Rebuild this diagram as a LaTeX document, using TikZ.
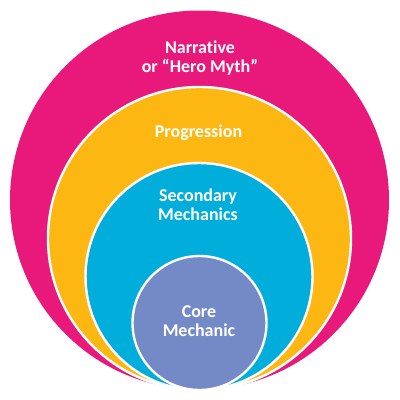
\documentclass[tikz,border=0pt]{standalone}
\usepackage{fontspec}
\setmainfont[Ligatures=NoCommon]{Carlito}
\definecolor{cpink}{RGB}{233,24,123}
\definecolor{corange}{RGB}{253,183,19}
\definecolor{cblue}{RGB}{1,174,219}
\definecolor{cpurple}{RGB}{116,138,199}
\tikzset{
  ring/.style={circle, draw=white, line width=1.8pt, inner sep=0pt},
  lbl/.style={text=white, font=\bfseries\fontsize{13.5}{14.2}\selectfont, align=center, anchor=base, inner sep=0pt}
}
\begin{document}
\begin{tikzpicture}[x=0.75pt,y=-0.75pt]
\useasboundingbox (0,0) rectangle (400,400);
\fill[cpink] (199.5,200) circle (189.5);
\node[ring, fill=corange, minimum size=303*0.75pt] (prog) at (199.5,238.5) {};
\node[ring, fill=cblue, minimum size=227*0.75pt] (sec) at (199,276.5) {};
\node[ring, fill=cpurple, minimum size=134*0.75pt] (core) at (199.5,323) {};
\node[lbl] (tnar) at (200,72) {Narrative\\or “Hero Myth”};
\node[lbl] (tprog) at (198.5,137) {Progression};
\node[lbl] (tsec) at (198,220) {Secondary\\Mechanics};
\node[lbl] (tcore) at (199,336) {Core\\Mechanic};
\end{tikzpicture}
\end{document}
